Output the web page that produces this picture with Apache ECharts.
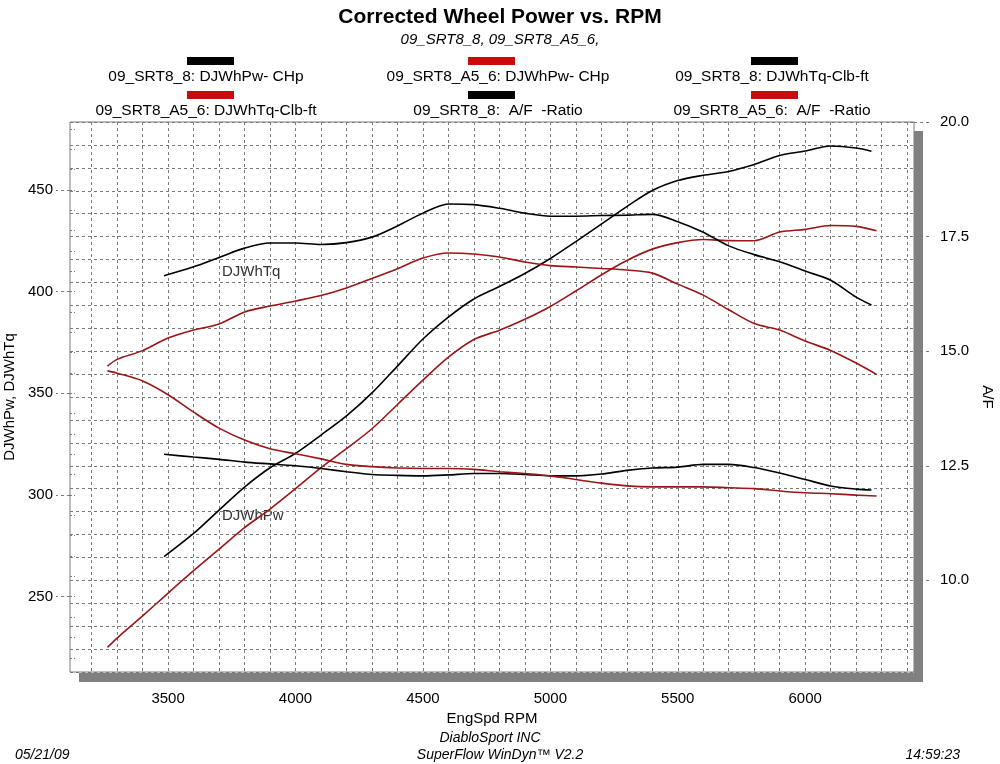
<!DOCTYPE html>
<html>
<head>
<meta charset="utf-8">
<script src="https://cdn.jsdelivr.net/npm/echarts@6/dist/echarts.min.js"></script>
<style>
html, body { margin: 0; padding: 0; background: #fff; }
#chart { width: 1000px; height: 764px; }
</style>
</head>
<body>
<div id="chart"></div>
<script>
// run 09_SRT8_8 (black)
var rpmA = [3484, 3600, 3700, 3800, 3900, 4000, 4100, 4200, 4300, 4400, 4500, 4600, 4700, 4800, 4900,
    5000, 5100, 5200, 5300, 5400, 5500, 5600, 5700, 5800, 5900, 6000, 6100, 6200, 6260];
var powA = [269.7, 281.1, 292.6, 303.9, 313.4, 320.5, 329.5, 338.9, 350.2, 363.4, 376.7, 387.5, 396.4, 402.5, 408.9,
    416.3, 424.6, 433.2, 441.8, 449.7, 454.6, 457.2, 459.1, 462.5, 466.9, 469.1, 471.6, 470.6, 469.0];
var tqA = [407.8, 412.2, 416.8, 421.4, 423.9, 423.9, 423.2, 424.1, 426.8, 432.3, 438.6, 443.1, 442.8, 441.0, 438.6,
    437.1, 437.1, 437.4, 437.6, 438.0, 434.4, 429.2, 422.5, 418.2, 414.7, 410.1, 405.6, 397.3, 393.4];
var afA = [12.75, 12.69, 12.64, 12.58, 12.54, 12.50, 12.44, 12.37, 12.31, 12.29, 12.28, 12.30, 12.33, 12.33, 12.31,
    12.28, 12.28, 12.32, 12.40, 12.45, 12.47, 12.53, 12.53, 12.46, 12.34, 12.20, 12.06, 11.99, 11.97];

// run 09_SRT8_A5_6 (red)
var rpmB = [3262, 3300, 3400, 3500, 3600, 3700, 3800, 3900, 4000, 4100, 4200, 4300, 4400, 4500, 4600, 4700,
    4800, 4900, 5000, 5100, 5200, 5300, 5400, 5500, 5600, 5700, 5800, 5900, 6000, 6100, 6200, 6280];
var powB = [225.1, 229.7, 240.6, 251.8, 262.8, 273.4, 284.0, 293.1, 303.1, 313.5, 322.8, 332.6, 344.5, 356.5, 367.8, 376.5,
    381.0, 386.4, 392.7, 400.3, 408.2, 415.3, 420.9, 424.1, 425.6, 425.1, 425.0, 429.3, 430.6, 432.5, 432.1, 429.9];
var tqB = [363.4, 366.7, 371.0, 377.2, 381.1, 384.1, 390.0, 392.9, 395.4, 398.1, 401.8, 406.5, 411.3, 416.5, 419.0, 418.5,
    417.0, 414.6, 412.8, 412.1, 411.4, 410.6, 409.1, 403.7, 398.3, 391.1, 384.3, 381.1, 375.7, 371.1, 364.9, 359.3];
var afB = [14.57, 14.52, 14.35, 14.05, 13.67, 13.32, 13.06, 12.87, 12.76, 12.65, 12.53, 12.48, 12.45, 12.44, 12.44, 12.42,
    12.37, 12.33, 12.28, 12.20, 12.12, 12.06, 12.04, 12.04, 12.04, 12.02, 12.00, 11.95, 11.91, 11.89, 11.86, 11.84];

var seriesNames = [
    '09_SRT8_8: DJWhPw- CHp', '09_SRT8_A5_6: DJWhPw- CHp', '09_SRT8_8: DJWhTq-Clb-ft',
    '09_SRT8_A5_6: DJWhTq-Clb-ft', '09_SRT8_8:  A/F  -Ratio', '09_SRT8_A5_6:  A/F  -Ratio'
];
var xLabels = [3500, 4000, 4500, 5000, 5500, 6000];
var leftLabels = [250, 300, 350, 400, 450];
var rightLabels = [10, 12.5, 15, 17.5, 20];

var BLACK = '#000000';
var RED = '#9a1616';
var FONT = 'Liberation Sans, Arial, sans-serif';

function pairs(xs, ys) {
    var out = [];
    for (var i = 0; i < xs.length; i++) out.push([xs[i], ys[i]]);
    return out;
}

// grid every 100 rpm, minor ticks every 10 on the left axis
var rpmGrid = [];
for (var r = 3200; r <= 6400; r += 100) rpmGrid.push(r);
var leftMinor = [];
for (var v = 220; v <= 480; v += 10) leftMinor.push(v);

var runs = [
    { name: seriesNames[0], data: pairs(rpmA, powA), color: BLACK, y: 0 },
    { name: seriesNames[1], data: pairs(rpmB, powB), color: RED, y: 0 },
    { name: seriesNames[2], data: pairs(rpmA, tqA), color: BLACK, y: 0 },
    { name: seriesNames[3], data: pairs(rpmB, tqB), color: RED, y: 0 },
    { name: seriesNames[4], data: pairs(rpmA, afA), color: BLACK, y: 1 },
    { name: seriesNames[5], data: pairs(rpmB, afB), color: RED, y: 1 }
];

var series = runs.map(function (s) {
    return {
        name: s.name,
        type: 'line',
        yAxisIndex: s.y,
        data: s.data,
        showSymbol: false,
        smooth: 0.3,
        lineStyle: { color: s.color, width: 1.6 },
        itemStyle: { color: s.color },
        z: 3
    };
});

// legend: bar above text, 3 columns x 2 rows
var graphics = [];
var barX = [210, 491, 774];
var textX = [206, 498, 772];
for (var i = 0; i < runs.length; i++) {
    var col = i % 3, row = Math.floor(i / 3);
    graphics.push({
        type: 'rect',
        shape: { x: barX[col] - 23, y: 57 + row * 34, width: 47, height: 8 },
        style: { fill: runs[i].color === BLACK ? '#000' : '#c80c0c' }
    });
    graphics.push({
        type: 'text',
        x: textX[col], y: 77 + row * 34,
        style: { text: runs[i].name, font: '15.5px ' + FONT, fill: '#000', textAlign: 'center', textVerticalAlign: 'middle' }
    });
}
// plot drop shadow
graphics.push({ type: 'rect', shape: { x: 79, y: 673, width: 844, height: 9 }, style: { fill: '#808080' } });
graphics.push({ type: 'rect', shape: { x: 914, y: 131, width: 9, height: 551 }, style: { fill: '#808080' } });
// curve tags
graphics.push({ type: 'text', x: 222, y: 272, style: { text: 'DJWhTq', font: '15px ' + FONT, fill: '#333', textVerticalAlign: 'middle' } });
graphics.push({ type: 'text', x: 222, y: 516, style: { text: 'DJWhPw', font: '15px ' + FONT, fill: '#333', textVerticalAlign: 'middle' } });
// footer
var footStyle = 'italic 14px ' + FONT;
graphics.push({ type: 'text', x: 15, y: 755, style: { text: '05/21/09', font: footStyle, fill: '#000', textVerticalAlign: 'middle' } });
graphics.push({ type: 'text', x: 490, y: 738, style: { text: 'DiabloSport INC', font: footStyle, fill: '#000', textAlign: 'center', textVerticalAlign: 'middle' } });
graphics.push({ type: 'text', x: 500, y: 755, style: { text: 'SuperFlow WinDyn\u2122 V2.2', font: footStyle, fill: '#000', textAlign: 'center', textVerticalAlign: 'middle' } });
graphics.push({ type: 'text', x: 960, y: 755, style: { text: '14:59:23', font: footStyle, fill: '#000', textAlign: 'right', textVerticalAlign: 'middle' } });

var gridLine = { color: '#7a7a7a', width: 1, type: [3, 3] };

var option = {
    animation: false,
    backgroundColor: '#fff',
    textStyle: { fontFamily: FONT },
    title: {
        text: 'Corrected Wheel Power vs. RPM',
        subtext: '09_SRT8_8, 09_SRT8_A5_6,',
        left: 'center',
        top: 2,
        itemGap: 4,
        textStyle: { fontSize: 21, fontWeight: 'bold', color: '#000', fontFamily: FONT },
        subtextStyle: { fontSize: 15, fontStyle: 'italic', color: '#000', fontFamily: FONT }
    },
    grid: {
        left: 70, top: 122, right: 86, bottom: 92,
        containLabel: false,
        outerBoundsMode: 'none',
        show: true, borderColor: '#7a7a7a', borderWidth: 1, backgroundColor: 'transparent'
    },
    xAxis: [{
        type: 'value',
        min: 3115, max: 6427,
        axisLine: { show: false },
        axisTick: { show: false, customValues: rpmGrid },
        splitLine: { show: true, lineStyle: gridLine },
        axisLabel: {
            customValues: xLabels, margin: 19, fontSize: 15, color: '#000',
            formatter: function (val) { return String(val); }
        },
        name: 'EngSpd RPM',
        nameLocation: 'middle',
        nameGap: 38,
        nameTextStyle: { fontSize: 15, color: '#000' }
    }],
    yAxis: [{
        type: 'value',
        position: 'left',
        min: 213, max: 483.4,
        axisLine: { show: false },
        axisTick: { show: true, inside: true, length: 5, customValues: leftMinor, lineStyle: { color: '#7a7a7a', type: [2, 2] } },
        axisLabel: {
            customValues: leftLabels, margin: 17, fontSize: 15, color: '#000',
            formatter: function (val) { return String(val); }
        },
        splitLine: { show: false },
        name: 'DJWhPw, DJWhTq',
        nameLocation: 'middle',
        nameGap: 52,
        nameTextStyle: { fontSize: 15, color: '#000' }
    }, {
        type: 'value',
        position: 'right',
        min: 8, max: 20, interval: 0.5,
        axisLine: { show: false },
        axisTick: { show: false },
        splitLine: { show: true, lineStyle: gridLine },
        axisLabel: {
            margin: 26, fontSize: 15, color: '#000',
            formatter: function (val) {
                return rightLabels.indexOf(val) >= 0 ? val.toFixed(1) : '';
            }
        },
        name: 'A/F',
        nameLocation: 'middle',
        nameRotate: -90,
        nameGap: 62,
        nameTextStyle: { fontSize: 15, color: '#000' }
    }, {
        type: 'value',
        position: 'left',
        min: 213, max: 483.4,
        axisLine: { show: false },
        axisTick: { show: true, length: 14, customValues: leftLabels, lineStyle: { color: '#7a7a7a', type: [3, 3] } },
        axisLabel: { show: false },
        splitLine: { show: false }
    }, {
        type: 'value',
        position: 'right',
        min: 8, max: 20,
        axisLine: { show: false },
        axisTick: { show: true, length: 16, customValues: rightLabels, lineStyle: { color: '#7a7a7a', type: [3, 3] } },
        axisLabel: { show: false },
        splitLine: { show: false }
    }],
    graphic: graphics,
    series: series
};

var chart = echarts.init(document.getElementById('chart'));
chart.setOption(option);
</script>
</body>
</html>
